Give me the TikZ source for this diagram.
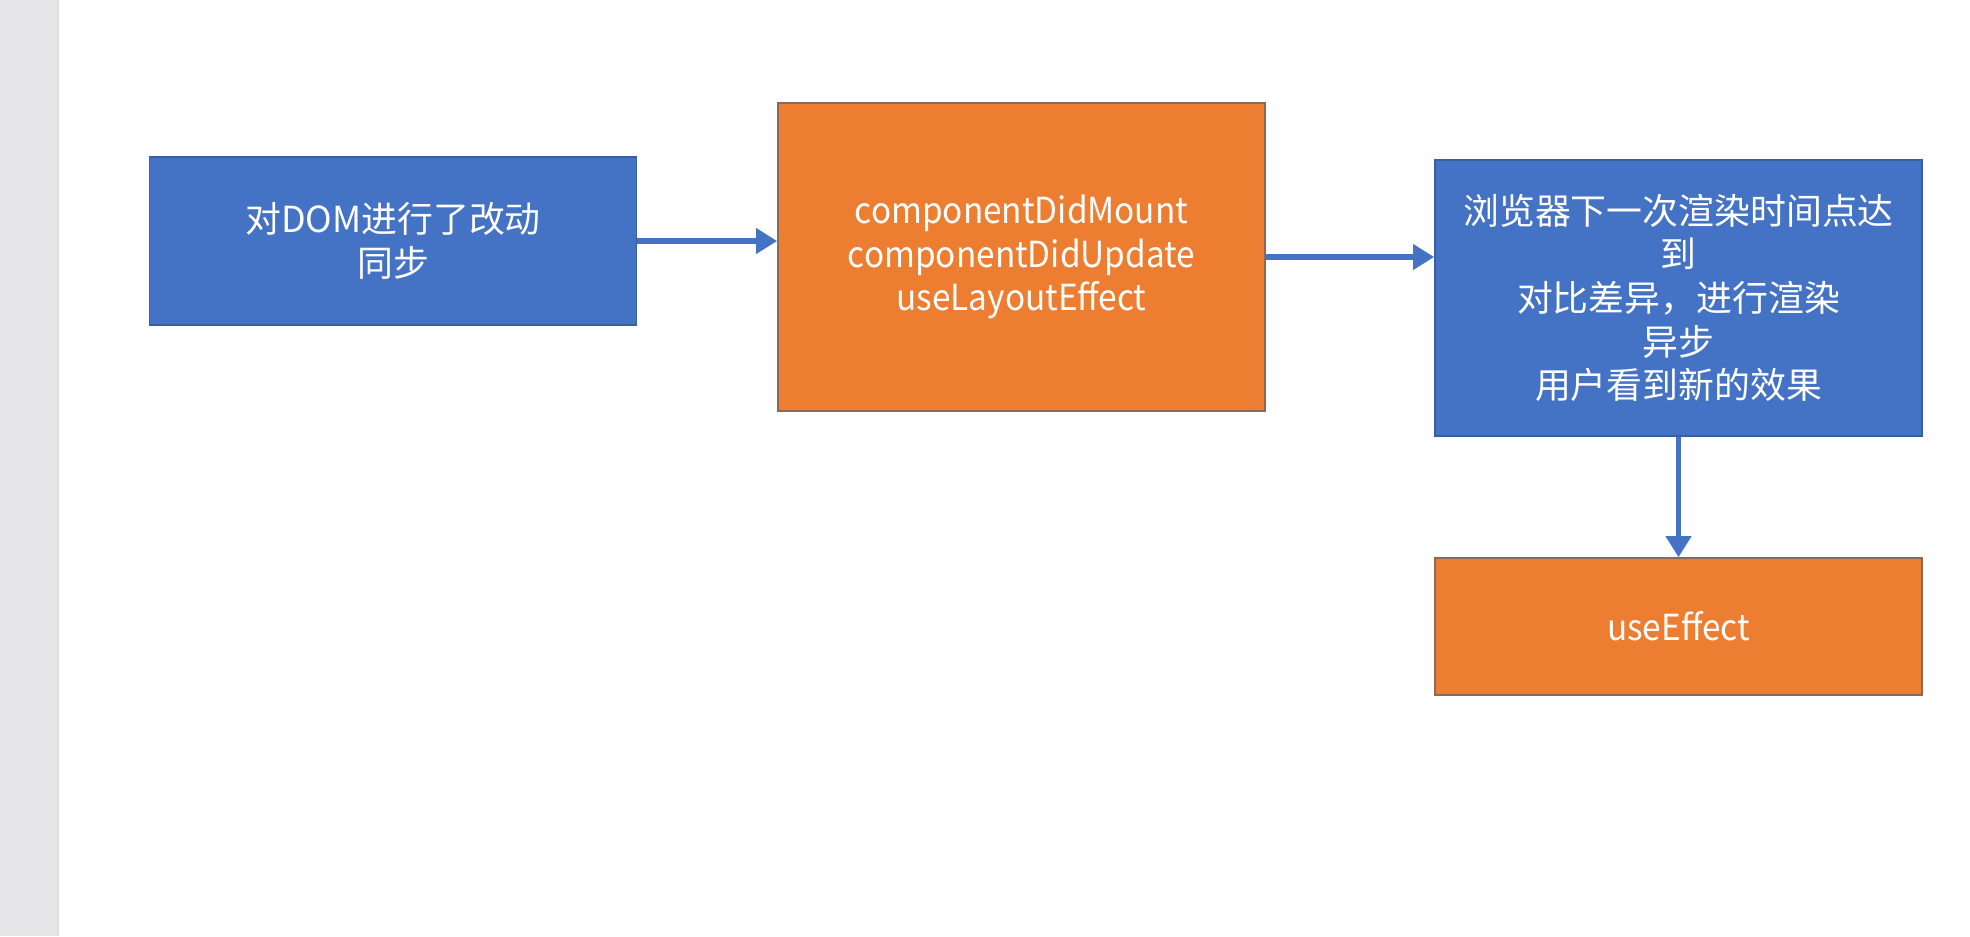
\documentclass[tikz,border=0pt]{standalone}
\usepackage{fontspec}
\setmainfont{Noto Sans CJK SC}
\newfontfamily\narrowlatin[FakeStretch=0.93]{Noto Sans CJK SC}
\usetikzlibrary{arrows.meta}
\definecolor{officeblue}{HTML}{4472C4}
\definecolor{officeorange}{HTML}{ED7D31}
\definecolor{blueline}{HTML}{3A5F9E}
\definecolor{orangeline}{HTML}{8A6A55}
\definecolor{stripgray}{HTML}{E7E7E9}
\begin{document}
\begin{tikzpicture}[x=0.01cm, y=-0.01cm, >={Triangle[length=6pt,width=7pt]},
    box/.style={rectangle, minimum width=4.87cm, text=white, align=center,
      font=\fontsize{10.2pt}{12.4pt}\selectfont, line width=0.4pt},
    bluebox/.style={box, fill=officeblue, draw=blueline},
    orangebox/.style={box, fill=officeorange, draw=orangeline,
      font=\fontsize{10.2pt}{12.4pt}\selectfont\narrowlatin},
    flow/.style={->, draw=officeblue, line width=1.5pt}]

    \useasboundingbox (0,0) rectangle (1970,936);
    \fill[white] (0,0) rectangle (1970,936);
    \fill[stripgray] (0,0) rectangle (58,936);
    \draw[black!12] (58,0) -- (58,936);

    \draw(393,241) node[bluebox, minimum height=1.68cm] (dom) {对DOM进行了改动\\同步};
    \draw(1021.5,257) node[orangebox, minimum height=3.08cm] (lifecycle)
    {componentDidMount\\componentDidUpdate\\useLayoutEffect};
    \draw(1678.5,298) node[bluebox, minimum height=2.76cm] (paint)
    {浏览器下一次渲染时间点达\\到\\对比差异，进行渲染\\异步\\用户看到新的效果};
    \draw(1678.5,626.5) node[orangebox, minimum height=1.37cm] (effect) {useEffect};

    \draw[flow] (dom.east) -- (dom.east -| lifecycle.west);
    \draw[flow] (lifecycle.east) -- (lifecycle.east -| paint.west);
    \draw[flow] (paint.south) -- (effect.north);

    \end{tikzpicture}
\end{document}
